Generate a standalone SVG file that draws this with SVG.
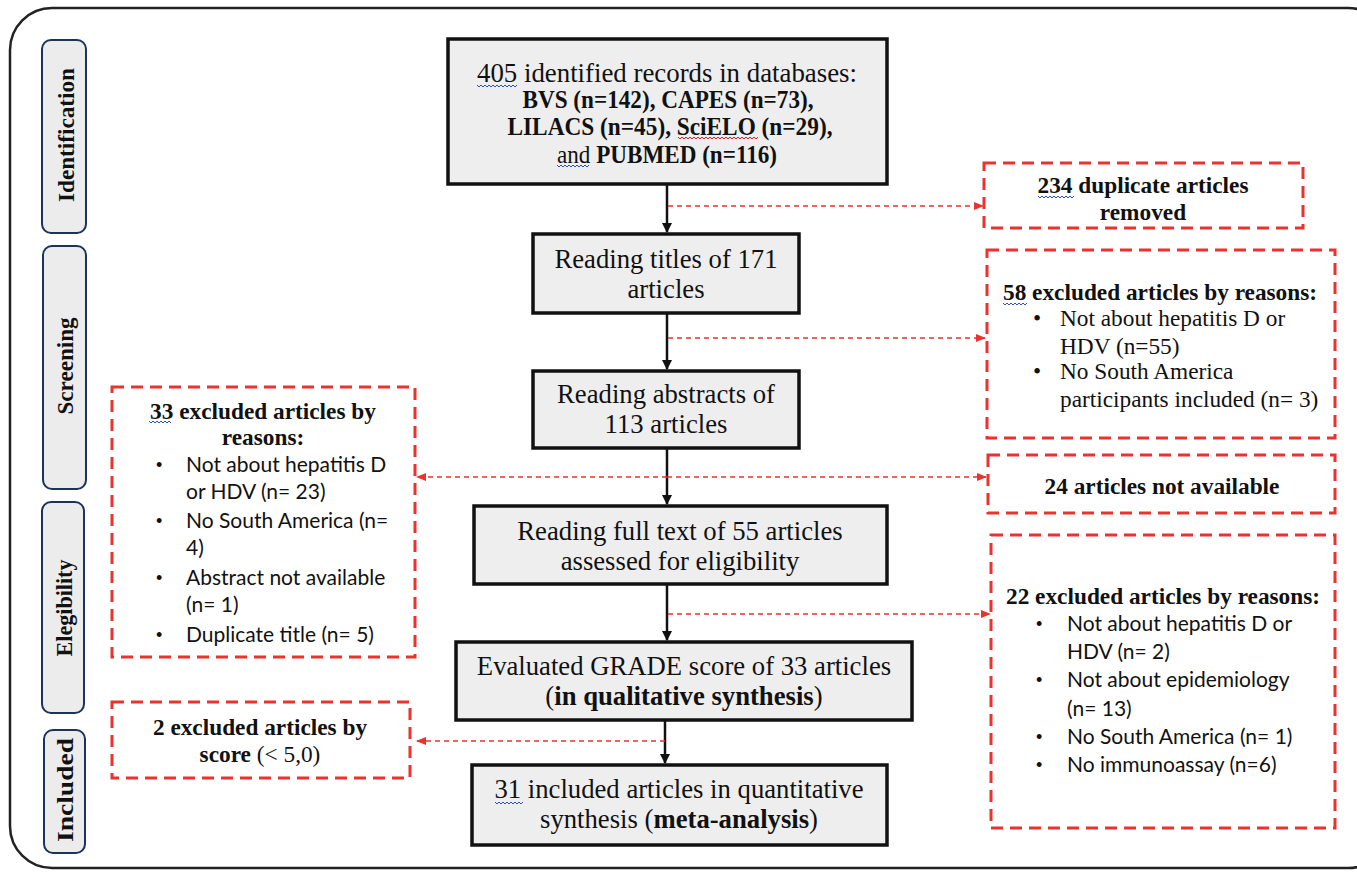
<svg xmlns="http://www.w3.org/2000/svg" width="1357" height="873" viewBox="0 0 1357 873">
<style>
.frame{fill:#fff;stroke:#222;stroke-width:2.5}
.side{fill:#ececec;stroke:#1c3556;stroke-width:2}
.sidet{font-family:"Liberation Serif",serif;font-weight:bold;font-size:23px;fill:#111;text-anchor:middle}
.box{fill:#eeeeee;stroke:#111;stroke-width:3.5}
.ex{fill:#fff;stroke:#e8332f;stroke-width:3;stroke-dasharray:12 7}
.t{font-family:"Liberation Serif",serif;font-size:26.7px;fill:#111;text-anchor:middle}
.tb{font-family:"Liberation Serif",serif;font-size:25px;font-weight:bold;fill:#111;text-anchor:middle}
.et{font-family:"Liberation Serif",serif;font-size:23.3px;fill:#111}
.sans{font-family:Lato,"Liberation Sans",sans-serif;font-size:21px;fill:#111}
.bul{font-family:"Liberation Sans",sans-serif;font-size:18px;fill:#111}
.main{stroke:#111;stroke-width:2.5;fill:none}
.red{stroke:#e8332f;stroke-width:1.6;stroke-dasharray:5 4;fill:none}
.wavy{stroke:#2b4fc7;stroke-width:1;fill:none}
.wavyr{stroke:#d22;stroke-width:1;fill:none}
</style>
<defs>
<marker id="ab" markerWidth="10" markerHeight="10" refX="9" refY="5" orient="auto" markerUnits="userSpaceOnUse"><path d="M0,0 L10,5 L0,10 Z" fill="#111"/></marker>
<marker id="ar" markerWidth="10" markerHeight="10" refX="9" refY="5" orient="auto" markerUnits="userSpaceOnUse"><path d="M0,1 L10,5 L0,9 Z" fill="#e8332f"/></marker>
</defs>
<rect class="frame" x="10" y="8" width="1380" height="860" rx="42"/>

<g id="side-identification"><rect class="side" x="42" y="40" width="44" height="193" rx="9"/><text class="sidet" transform="translate(74,135) rotate(-90)" textLength="134" lengthAdjust="spacingAndGlyphs">Identification</text></g>
<g id="side-screening"><rect class="side" x="43" y="246" width="43" height="243" rx="9"/><text class="sidet" transform="translate(73,366) rotate(-90)" textLength="97" lengthAdjust="spacingAndGlyphs">Screening</text></g>
<g id="side-eligibility"><rect class="side" x="42" y="502" width="42" height="211" rx="9"/><text class="sidet" transform="translate(72,608) rotate(-90)" textLength="97" lengthAdjust="spacingAndGlyphs">Elegibility</text></g>
<g id="side-included"><rect class="side" x="44" y="730" width="41" height="123" rx="9"/><text class="sidet" transform="translate(73,790) rotate(-90)" textLength="104" lengthAdjust="spacingAndGlyphs">Included</text></g>

<g id="connectors">
<line class="main" x1="667" y1="184" x2="667" y2="232" marker-end="url(#ab)"/>
<line class="main" x1="667" y1="313" x2="667" y2="369" marker-end="url(#ab)"/>
<line class="main" x1="667" y1="448" x2="667" y2="504" marker-end="url(#ab)"/>
<line class="main" x1="667" y1="584" x2="667" y2="640" marker-end="url(#ab)"/>
<line class="main" x1="665" y1="720" x2="665" y2="763" marker-end="url(#ab)"/>
<line class="red" x1="668" y1="206" x2="983" y2="206" marker-end="url(#ar)"/>
<line class="red" x1="668" y1="338" x2="985" y2="338" marker-end="url(#ar)"/>
<line class="red" x1="667" y1="477" x2="986" y2="477" marker-end="url(#ar)"/>
<line class="red" x1="667" y1="477" x2="417" y2="477" marker-end="url(#ar)"/>
<line class="red" x1="668" y1="614" x2="990" y2="614" marker-end="url(#ar)"/>
<line class="red" x1="665" y1="741" x2="417" y2="741" marker-end="url(#ar)"/>
</g>

<g id="n1"><rect class="box" x="448" y="39" width="439" height="145"/>
<text class="t" x="667" y="82" textLength="380" lengthAdjust="spacingAndGlyphs">405 identified records in databases:</text>
<text class="tb" x="668" y="108" textLength="291" lengthAdjust="spacingAndGlyphs">BVS (n=142), CAPES (n=73),</text>
<text class="tb" x="670" y="135" textLength="325" lengthAdjust="spacingAndGlyphs">LILACS (n=45), SciELO (n=29),</text>
<text class="tb" x="667" y="163" textLength="220" lengthAdjust="spacingAndGlyphs"><tspan font-weight="normal">and</tspan> PUBMED (n=116)</text>
<path class="wavy" d="M477,85 l2,2 l2,-2 l2,2 l2,-2 l2,2 l2,-2 l2,2 l2,-2 l2,2 l2,-2 l2,2 l2,-2 l2,2 l2,-2 l2,2 l2,-2 l2,2 l2,-2 l2,2 l2,-2"/>
<path class="wavyr" d="M678,137 l2,2 l2,-2 l2,2 l2,-2 l2,2 l2,-2 l2,2 l2,-2 l2,2 l2,-2 l2,2 l2,-2 l2,2 l2,-2 l2,2 l2,-2 l2,2 l2,-2 l2,2 l2,-2 l2,2 l2,-2 l2,2 l2,-2 l2,2 l2,-2 l2,2 l2,-2 l2,2 l2,-2 l2,2 l2,-2 l2,2 l2,-2 l2,2 l2,-2 l2,2 l2,-2 l2,2 l2,-2"/>
<path class="wavy" d="M557,165 l2,2 l2,-2 l2,2 l2,-2 l2,2 l2,-2 l2,2 l2,-2 l2,2 l2,-2 l2,2 l2,-2 l2,2 l2,-2 l2,2 l2,-2"/>
</g>
<g id="n2"><rect class="box" x="533" y="234" width="266" height="79"/>
<text class="t" x="666" y="268">Reading titles of 171</text>
<text class="t" x="666" y="298">articles</text></g>
<g id="n3"><rect class="box" x="533" y="371" width="266" height="77"/>
<text class="t" x="666" y="403">Reading abstracts of</text>
<text class="t" x="666" y="433">113 articles</text></g>
<g id="n4"><rect class="box" x="474" y="506" width="413" height="78"/>
<text class="t" x="680" y="540">Reading full text of 55 articles</text>
<text class="t" x="680" y="570">assessed for eligibility</text></g>
<g id="n5"><rect class="box" x="456" y="642" width="456" height="78"/>
<text class="t" x="684" y="675">Evaluated GRADE score of 33 articles</text>
<text class="t" x="684" y="705">(<tspan font-weight="bold">in qualitative synthesis</tspan>)</text></g>
<g id="n6"><rect class="box" x="472" y="765" width="415" height="80"/>
<text class="t" x="679" y="798">31 included articles in quantitative</text>
<text class="t" x="679" y="828">synthesis (<tspan font-weight="bold">meta-analysis</tspan>)</text>
<path class="wavy" d="M495,802 l2,2 l2,-2 l2,2 l2,-2 l2,2 l2,-2 l2,2 l2,-2 l2,2 l2,-2 l2,2 l2,-2 l2,2 l2,-2"/></g>

<g id="e1"><rect class="ex" x="984" y="163" width="319" height="65"/>
<text class="et" x="1143" y="193" text-anchor="middle" font-weight="bold">234 duplicate articles</text>
<text class="et" x="1143" y="220" text-anchor="middle" font-weight="bold">removed</text>
<path class="wavy" d="M1038,196 l2,2 l2,-2 l2,2 l2,-2 l2,2 l2,-2 l2,2 l2,-2 l2,2 l2,-2 l2,2 l2,-2 l2,2 l2,-2 l2,2 l2,-2 l2,2 l2,-2"/></g>
<g id="e2"><rect class="ex" x="987" y="250" width="348" height="188"/>
<text class="et" x="1003" y="300" font-weight="bold">58 excluded articles by reasons:</text>
<path class="wavy" d="M1003,303 l2,2 l2,-2 l2,2 l2,-2 l2,2 l2,-2 l2,2 l2,-2 l2,2 l2,-2 l2,2 l2,-2"/>
<text class="et" x="1033" y="326">•</text><text class="et" x="1060" y="326">Not about hepatitis D or</text>
<text class="et" x="1060" y="354">HDV (n=55)</text>
<text class="et" x="1033" y="379">•</text><text class="et" x="1060" y="379">No South America</text>
<text class="et" x="1060" y="407">participants included (n= 3)</text></g>
<g id="e3"><rect class="ex" x="988" y="455" width="347" height="58"/>
<text class="et" x="1162" y="494" text-anchor="middle" font-weight="bold">24 articles not available</text></g>
<g id="e4"><rect class="ex" x="991" y="535" width="344" height="293"/>
<text class="et" x="1006" y="604" font-weight="bold">22 excluded articles by reasons:</text>
<text class="bul" x="1036" y="630">•</text><text class="sans" x="1067" y="631">Not about hepatitis D or</text>
<text class="sans" x="1067" y="659">HDV (n= 2)</text>
<text class="bul" x="1036" y="686">•</text><text class="sans" x="1067" y="687">Not about epidemiology</text>
<text class="sans" x="1067" y="716">(n= 13)</text>
<text class="bul" x="1036" y="743">•</text><text class="sans" x="1067" y="744">No South America (n= 1)</text>
<text class="bul" x="1036" y="771">•</text><text class="sans" x="1067" y="772">No immunoassay (n=6)</text></g>
<g id="e5"><rect class="ex" x="112" y="387" width="303" height="270"/>
<text class="et" x="263" y="419" text-anchor="middle" font-weight="bold">33 excluded articles by</text>
<text class="et" x="263" y="445" text-anchor="middle" font-weight="bold">reasons:</text>
<path class="wavy" d="M149,421 l2,2 l2,-2 l2,2 l2,-2 l2,2 l2,-2 l2,2 l2,-2 l2,2 l2,-2 l2,2"/>
<text class="bul" x="156" y="471">•</text><text class="sans" x="186" y="472">Not about hepatitis D</text>
<text class="sans" x="186" y="499">or HDV (n= 23)</text>
<text class="bul" x="156" y="527">•</text><text class="sans" x="186" y="528">No South America (n=</text>
<text class="sans" x="186" y="555">4)</text>
<text class="bul" x="156" y="584">•</text><text class="sans" x="186" y="585">Abstract not available</text>
<text class="sans" x="186" y="612">(n= 1)</text>
<text class="bul" x="156" y="641">•</text><text class="sans" x="186" y="642">Duplicate title (n= 5)</text></g>
<g id="e6"><rect class="ex" x="112" y="702" width="298" height="76"/>
<text class="et" x="260" y="735" text-anchor="middle" font-weight="bold">2 excluded articles by</text>
<text class="et" x="260" y="762" text-anchor="middle"><tspan font-weight="bold">score</tspan> (&lt; 5,0)</text></g>
</svg>
